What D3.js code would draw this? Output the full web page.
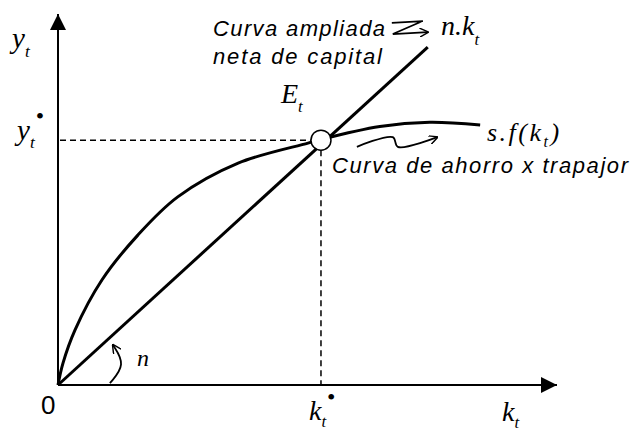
<!DOCTYPE html>
<html>
<head>
<meta charset="utf-8">
<script src="https://cdn.jsdelivr.net/npm/d3@7"></script>
<style>
  body { margin: 0; background: #fff; }
  svg { display: block; }
  .sans { font-family: "Liberation Sans", Arial, sans-serif; font-style: italic; }
  .serif { font-family: "Liberation Serif", "Times New Roman", serif; font-style: italic; }
</style>
</head>
<body>
<svg id="chart"></svg>
<script>
const width = 634, height = 432;

// data (abstract units)
const kStar = 5.27, yStar = 6.6;
const saving_k = [0, 0.10, 0.34, 0.88, 1.60, 2.40, 3.61, 5.01, 5.27, 6.45, 7.45, 8.46];
const saving_y = [0, 0.59, 1.48, 2.83, 4.04, 5.07, 5.98, 6.52, 6.62, 6.97, 7.08, 7.01];
const line_k = [0, 7.41];
const line_y = [0, 9.11];
// annotation squiggles, same units
const zigTop = [[6.69, 9.76], [7.31, 9.81], [6.71, 9.46], [7.41, 9.51]];
const zigLow = [[5.99, 6.42], [6.71, 6.68], [6.81, 6.42], [7.60, 6.68]];
const angleArrow = [[1.04, 0.05], [1.36, 0.55], [1.10, 1.08]];

const x = d3.scaleLinear().domain([0, 10]).range([58, 557]);
const y = d3.scaleLinear().domain([0, 10]).range([385, 14]);

const svg = d3.select("#chart")
  .attr("width", width)
  .attr("height", height);

const defs = svg.append("defs");
defs.append("marker")
  .attr("id", "axisHead")
  .attr("viewBox", "0 0 10 10")
  .attr("refX", 10).attr("refY", 5)
  .attr("markerUnits", "userSpaceOnUse")
  .attr("markerWidth", 16).attr("markerHeight", 16)
  .attr("orient", "auto")
  .append("path").attr("d", "M0,0 L10,5 L0,10 Z").attr("fill", "#000");
defs.append("marker")
  .attr("id", "openHead")
  .attr("viewBox", "0 0 10 10")
  .attr("refX", 9).attr("refY", 5)
  .attr("markerUnits", "userSpaceOnUse")
  .attr("markerWidth", 9).attr("markerHeight", 9)
  .attr("orient", "auto")
  .append("path").attr("d", "M0,0 L10,5 L0,10").attr("fill", "none")
  .attr("stroke", "#000").attr("stroke-width", 1.6);

// axes
svg.append("line")
  .attr("x1", x(0)).attr("y1", y(0))
  .attr("x2", x(0)).attr("y2", y(10))
  .attr("stroke", "#000").attr("stroke-width", 2)
  .attr("marker-end", "url(#axisHead)");
svg.append("line")
  .attr("x1", x(0)).attr("y1", y(0))
  .attr("x2", x(10)).attr("y2", y(0))
  .attr("stroke", "#000").attr("stroke-width", 2)
  .attr("marker-end", "url(#axisHead)");

// dashed guides
svg.append("line")
  .attr("x1", x(0) + 2).attr("y1", y(yStar))
  .attr("x2", x(kStar)).attr("y2", y(yStar))
  .attr("stroke", "#000").attr("stroke-width", 1.5)
  .attr("stroke-dasharray", "6,4");
svg.append("line")
  .attr("x1", x(kStar)).attr("y1", y(yStar))
  .attr("x2", x(kStar)).attr("y2", y(0))
  .attr("stroke", "#000").attr("stroke-width", 1.5)
  .attr("stroke-dasharray", "6,4");

// n.k line
svg.append("line")
  .attr("x1", x(line_k[0])).attr("y1", y(line_y[0]))
  .attr("x2", x(line_k[1])).attr("y2", y(line_y[1]))
  .attr("stroke", "#000").attr("stroke-width", 3);

// s.f(k) curve
const pts = saving_k.map((k, i) => [k, saving_y[i]]);
svg.append("path")
  .attr("d", d3.line().x(d => x(d[0])).y(d => y(d[1])).curve(d3.curveCatmullRom.alpha(0.5))(pts))
  .attr("fill", "none").attr("stroke", "#000").attr("stroke-width", 3);

// equilibrium
svg.append("circle")
  .attr("cx", x(kStar)).attr("cy", y(yStar)).attr("r", 10)
  .attr("fill", "#fff").attr("stroke", "#000").attr("stroke-width", 1.5);

// squiggles
const sq = d3.line().x(d => x(d[0])).y(d => y(d[1]));
svg.append("path").attr("d", sq.curve(d3.curveLinear)(zigTop))
  .attr("fill", "none").attr("stroke", "#000").attr("stroke-width", 1.8)
  .attr("marker-end", "url(#openHead)");
svg.append("path").attr("d", sq.curve(d3.curveCatmullRom)(zigLow))
  .attr("fill", "none").attr("stroke", "#000").attr("stroke-width", 1.8)
  .attr("marker-end", "url(#openHead)");
svg.append("path").attr("d", sq.curve(d3.curveBasis)(angleArrow))
  .attr("fill", "none").attr("stroke", "#000").attr("stroke-width", 1.8)
  .attr("marker-end", "url(#openHead)");

// labels
function sym(px, py, main, sub, size, subDy, star) {
  const t = svg.append("text").attr("class", "serif")
    .attr("x", px).attr("y", py).attr("font-size", size);
  t.append("tspan").text(main);
  t.append("tspan").attr("font-size", size * 0.6).attr("dy", subDy).text("t");
  if (star) t.append("tspan").attr("font-size", 24).attr("font-style", "normal")
    .attr("dx", 1).attr("dy", -subDy - size * 0.55).text("•");
  return t;
}
sym(12, 48, "y", "t", 29, 9, false);
sym(17, 140, "y", "t", 29, 8, true);
sym(281, 103, "E", "t", 28, 9, false);
sym(441, 35, "n.k", "t", 28, 10, false);
sym(309, 420, "k", "t", 28, 7, true);
sym(502, 421, "k", "t", 28, 7, false);

const sf = svg.append("text").attr("class", "serif")
  .attr("x", 487).attr("y", 141).attr("font-size", 26)
  .style("letter-spacing", "2.5px");
sf.append("tspan").text("s.f(k");
sf.append("tspan").attr("font-size", 16).attr("dy", 6).text("t");
sf.append("tspan").attr("dy", -6).text(")");

svg.append("text").attr("class", "serif")
  .attr("x", 137).attr("y", 366).attr("font-size", 24).text("n");

svg.append("text")
  .attr("x", 41).attr("y", 414)
  .attr("font-family", "Liberation Sans, Arial, sans-serif")
  .attr("font-size", 26).text("0");

svg.append("text").attr("class", "sans")
  .attr("x", 213).attr("y", 36).attr("font-size", 22)
  .attr("textLength", 172).attr("lengthAdjust", "spacing").text("Curva ampliada");
svg.append("text").attr("class", "sans")
  .attr("x", 213).attr("y", 64).attr("font-size", 22)
  .attr("textLength", 169).attr("lengthAdjust", "spacing").text("neta de capital");
svg.append("text").attr("class", "sans")
  .attr("x", 332).attr("y", 173).attr("font-size", 22)
  .attr("textLength", 296).attr("lengthAdjust", "spacing").text("Curva de ahorro x trapajor");
</script>
</body>
</html>
